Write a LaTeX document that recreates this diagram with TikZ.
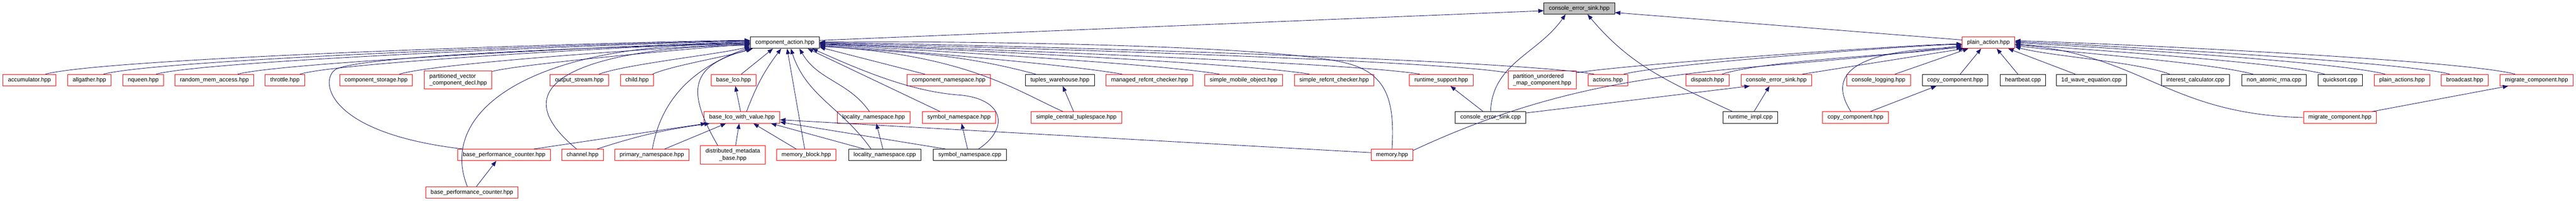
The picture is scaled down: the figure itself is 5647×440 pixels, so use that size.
\documentclass[tikz,border=0pt]{standalone}
\usepackage{fontspec}
\setmainfont{Liberation Sans}
\usepackage{tikz}
\usetikzlibrary{arrows.meta}
\definecolor{edgeblue}{HTML}{191970}

\begin{document}
\begin{tikzpicture}[x=1pt,y=1pt,
        filebox/.style={rectangle, draw, line width=1pt, fill=white, inner xsep=11pt, inner ysep=0pt, minimum height=25pt, font=\fontsize{12.8}{15}\selectfont},
        redfile/.style={filebox, draw=red},
        cppfile/.style={filebox, draw=black},
        rootfile/.style={filebox, draw=black, fill=gray!50},
        twoline/.style={align=left, minimum height=40pt},
        incl/.style={draw=edgeblue, line width=1pt, -{Triangle[length=12pt,width=9pt]}}]
        \useasboundingbox (0,0) rectangle (5647,-440);
        % Top: the file itself and the two action headers
        \node[rootfile] (cesh) at (3462,-18.5) {console\_error\_sink.hpp};
        \node[cppfile] (compact) at (1720.5,-93.5) {component\_action.hpp};
        \node[redfile] (plainact) at (4359,-93.5) {plain\_action.hpp};
        % First row of includers
        \node[redfile] (accumulator) at (64.5,-175.5) {accumulator.hpp};
        \node[redfile] (allgather) at (196,-175.5) {allgather.hpp};
        \node[redfile] (nqueen) at (314,-175.5) {nqueen.hpp};
        \node[redfile] (randmem) at (470,-175.5) {random\_mem\_access.hpp};
        \node[redfile] (throttle) at (624.5,-175.5) {throttle.hpp};
        \node[redfile] (compstorage) at (824.5,-175.5) {component\_storage.hpp};
        \node[redfile, twoline] (partvec) at (1004.5,-175) {partitioned\_vector\\\_component\_decl.hpp};
        \node[redfile] (outstream) at (1270,-175.5) {output\_stream.hpp};
        \node[redfile] (child) at (1396.5,-175.5) {child.hpp};
        \node[redfile] (baselco) at (1608,-175.5) {base\_lco.hpp};
        \node[redfile] (compns) at (2079.5,-175.5) {component\_namespace.hpp};
        \node[cppfile] (tupwh) at (2323.5,-175.5) {tuples\_warehouse.hpp};
        \node[redfile] (mrefcnt) at (2520,-175.5) {managed\_refcnt\_checker.hpp};
        \node[redfile] (smobile) at (2726,-175.5) {simple\_mobile\_object.hpp};
        \node[redfile] (srefcnt) at (2924.5,-175.5) {simple\_refcnt\_checker.hpp};
        \node[redfile] (rtsupport) at (3159.5,-175.5) {runtime\_support.hpp};
        \node[redfile, twoline] (partmap) at (3380.5,-175) {partition\_unordered\\\_map\_component.hpp};
        \node[redfile] (actions) at (3524.5,-175.5) {actions.hpp};
        \node[redfile] (dispatch) at (3743,-175.5) {dispatch.hpp};
        \node[redfile] (cesh2) at (3894,-175.5) {console\_error\_sink.hpp};
        \node[redfile] (conlog) at (4118,-175.5) {console\_logging.hpp};
        \node[cppfile] (copycomp) at (4286,-175.5) {copy\_component.hpp};
        \node[cppfile] (heartbeat) at (4434.5,-175.5) {heartbeat.cpp};
        \node[cppfile] (wave1d) at (4584.5,-175.5) {1d\_wave\_equation.cpp};
        \node[cppfile] (interest) at (4812.5,-175.5) {interest\_calculator.cpp};
        \node[cppfile] (nonatomic) at (4985,-175.5) {non\_atomic\_rma.cpp};
        \node[cppfile] (quicksort) at (5130,-175.5) {quicksort.cpp};
        \node[redfile] (plainacts) at (5265.5,-175.5) {plain\_actions.hpp};
        \node[redfile] (broadcast) at (5403,-175.5) {broadcast.hpp};
        \node[redfile] (migrate) at (5560.5,-175.5) {migrate\_component.hpp};
        % Second row
        \node[redfile] (lcowv) at (1626.5,-257.5) {base\_lco\_with\_value.hpp};
        \node[redfile] (localityns) at (1915,-257.5) {locality\_namespace.hpp};
        \node[redfile] (symbolns) at (2102,-257.5) {symbol\_namespace.hpp};
        \node[redfile] (sctuple) at (2359.5,-257.5) {simple\_central\_tuplespace.hpp};
        \node[cppfile] (cescpp) at (3267.5,-257.5) {console\_error\_sink.cpp};
        \node[cppfile] (rtimpl) at (3837,-257.5) {runtime\_impl.cpp};
        \node[redfile] (copycomp2) at (4067.5,-257.5) {copy\_component.hpp};
        \node[redfile] (migrate2) at (5129.5,-257.5) {migrate\_component.hpp};
        % Third row
        \node[redfile] (perfcnt) at (1105,-339.5) {base\_performance\_counter.hpp};
        \node[redfile] (channel) at (1277,-339.5) {channel.hpp};
        \node[redfile] (primaryns) at (1429,-339.5) {primary\_namespace.hpp};
        \node[redfile, twoline, align=center] (distmeta) at (1606.5,-339.5) {distributed\_metadata\\\_base.hpp};
        \node[redfile] (memblock) at (1767.5,-339.5) {memory\_block.hpp};
        \node[cppfile] (localitycpp) at (1939.5,-339.5) {locality\_namespace.cpp};
        \node[cppfile] (symbolcpp) at (2126,-339.5) {symbol\_namespace.cpp};
        \node[redfile] (memory) at (3051.5,-339.5) {memory.hpp};
        % Bottom row
        \node[redfile] (perfcnt2) at (1034.5,-421.5) {base\_performance\_counter.hpp};

        % Into console_error_sink.hpp
        \draw[incl] ([yshift=5]compact.east) -- ([yshift=-5]cesh.west);
        \draw[incl] ([yshift=6]plainact.west) -- ([yshift=-9]cesh.east);
        \draw[incl] (cescpp.north) .. controls +(88:106) and +(-125:106) .. ([xshift=-30]cesh.south);
        \draw[incl] ([xshift=-39]rtimpl.north) .. controls +(155:150) and +(-50:150) .. ([xshift=18]cesh.south);

        % Into component_action.hpp from the left
        \draw[incl] ([xshift=35]accumulator.north) .. controls +(15:151) and +(180:151) .. ([yshift=5]compact.west);
        \draw[incl] ([xshift=31]allgather.north) .. controls +(15:139) and +(180:139) .. ([yshift=4]compact.west);
        \draw[incl] ([xshift=28]nqueen.north) .. controls +(15:128) and +(180:128) .. ([yshift=3]compact.west);
        \draw[incl] ([xshift=51]randmem.north) .. controls +(15:110) and +(180:110) .. ([yshift=1]compact.west);
        \draw[incl] ([xshift=33]throttle.north) .. controls +(17:97) and +(180:97) .. (compact.west);
        \draw[incl] ([xshift=51]compstorage.north) .. controls +(17:91) and +(182:91) .. ([yshift=-2]compact.west);
        \draw[incl] ([yshift=-2]partvec.north east) .. controls +(15:67) and +(184:67) .. ([yshift=-3]compact.west);
        \draw[incl] ([xshift=43]outstream.north) .. controls +(20:66) and +(195:66) .. ([yshift=-8]compact.west);
        \draw[incl] ([xshift=34]child.north) .. controls +(25:44) and +(200:44) .. ([xshift=3]compact.south west);
        \draw[incl] ([xshift=-90]perfcnt.north) .. controls (700,-290) and (700,-165) .. (740,-150) .. controls +(20:106) and +(182:106) .. ([yshift=-1]compact.west);
        \draw[incl] ([xshift=-10]perfcnt2.north) .. controls (960,-250) and (1150,-90) .. ([yshift=-4]compact.west);
        \draw[incl] ([xshift=-13]channel.north) .. controls (1050,-150) and (1400,-100) .. ([yshift=-6]compact.west);
        \draw[incl] ([xshift=1]primaryns.north) .. controls +(80:121) and +(200:121) .. ([yshift=3]compact.south west);
        \draw[incl] ([xshift=-33]distmeta.north) .. controls +(120:142) and +(195:142) .. ([xshift=6]compact.south west);

        % Into component_action.hpp from below
        \draw[incl] ([xshift=17]baselco.north) -- ([xshift=-26]compact.south);
        \draw[incl] ([xshift=10]lcowv.north) .. controls +(69:62) and +(233:62) .. ([xshift=-8]compact.south);
        \draw[incl] ([xshift=-3.5]memblock.north) -- ([xshift=5]compact.south);
        \draw[incl] ([xshift=-30]localitycpp.north) .. controls +(125:110) and +(-72:110) .. ([xshift=13]compact.south);
        \draw[incl] ([xshift=-9]localityns.north) .. controls +(125:81) and +(-60:81) .. ([xshift=32]compact.south);
        \draw[incl] ([xshift=-41]symbolns.north) -- ([xshift=50]compact.south);
        \draw[incl] ([xshift=19]symbolcpp.north) .. controls (2215,-280) and (2200,-215) .. (2100,-208) .. controls (2000,-200) and (1900,-160) .. ([xshift=60]compact.south);

        % Into component_action.hpp from the right
        \draw[incl] ([xshift=-52]compns.north) -- ([yshift=-10]compact.east);
        \draw[incl] ([xshift=-29]sctuple.north) .. controls (2230,-200) and (2120,-120) .. ([yshift=-8]compact.east);
        \draw[incl] ([xshift=-53]tupwh.north) .. controls +(165:187) and +(-5:187) .. ([yshift=-7]compact.east);
        \draw[incl] ([xshift=-60]mrefcnt.north) .. controls +(170:130) and +(-3:130) .. ([yshift=-6]compact.east);
        \draw[incl] ([xshift=-53]smobile.north) .. controls +(170:137) and +(-3:137) .. ([yshift=-4]compact.east);
        \draw[incl] ([xshift=-54]srefcnt.north) .. controls +(170:147) and +(-2:147) .. ([yshift=-3]compact.east);
        \draw[incl] ([xshift=-47]rtsupport.north) .. controls +(170:155) and +(-2:155) .. ([yshift=-2]compact.east);
        \draw[incl] ([yshift=-5]partmap.north west) .. controls +(170:177) and +(-1:177) .. ([yshift=-1]compact.east);
        \draw[incl] ([xshift=-30]actions.north) .. controls +(170:200) and +(0:200) .. (compact.east);
        \draw[incl] (memory.north) .. controls (3058,-220) and (3040,-160) .. (2950,-138) .. controls +(166:181) and +(1:181) .. ([yshift=1]compact.east);

        % Into base_lco_with_value.hpp and base_lco.hpp
        \draw[incl] ([xshift=-3]lcowv.north) -- ([xshift=4]baselco.south);
        \draw[incl] ([xshift=65]perfcnt.north) -- ([xshift=5]lcowv.south west);
        \draw[incl] ([xshift=32]channel.north) .. controls +(18:100) and +(188:100) .. ([xshift=13]lcowv.south west);
        \draw[incl] ([xshift=28]primaryns.north) -- ([xshift=-35]lcowv.south);
        \draw[incl] ([xshift=6]distmeta.north) -- ([xshift=-6]lcowv.south);
        \draw[incl] ([xshift=-22]memblock.north) -- ([xshift=25]lcowv.south);
        \draw[incl] ([xshift=-45]localitycpp.north) -- ([xshift=-20]lcowv.south east);
        \draw[incl] ([xshift=-53]symbolcpp.north) -- ([yshift=-10]lcowv.east);
        \draw[incl] ([yshift=5]memory.west) -- ([yshift=-5]lcowv.east);

        % Short links between the lower rows
        \draw[incl] ([xshift=10]perfcnt2.north) -- ([xshift=-17]perfcnt.south);
        \draw[incl] ([xshift=-4]localitycpp.north) -- ([xshift=6]localityns.south);
        \draw[incl] ([xshift=-5]symbolcpp.north) -- ([xshift=6]symbolns.south);
        \draw[incl] ([xshift=-6]sctuple.north) -- ([xshift=6]tupwh.south);
        \draw[incl] ([xshift=-16]cescpp.north) -- ([xshift=20]rtsupport.south);
        \draw[incl] ([yshift=10]cescpp.east) -- ([xshift=-58]cesh2.south);
        \draw[incl] ([xshift=8]rtimpl.north) -- ([xshift=-15]cesh2.south);
        \draw[incl] ([xshift=32]copycomp2.north) -- ([xshift=-41]copycomp.south);
        \draw[incl] ([xshift=70]migrate2.north) -- ([xshift=-62]migrate.south);

        % Into plain_action.hpp
        \draw[incl] ([yshift=-5]partmap.north east) .. controls +(10:100) and +(180:100) .. ([yshift=-3]plainact.west);
        \draw[incl] ([xshift=35]actions.north) .. controls +(15:87) and +(180:87) .. ([yshift=-4]plainact.west);
        \draw[incl] ([yshift=10]memory.east) .. controls +(25:479) and +(188:479) .. ([yshift=-6]plainact.west);
        \draw[incl] ([xshift=32]dispatch.north) .. controls +(18:104) and +(190:104) .. ([yshift=-8]plainact.west);
        \draw[incl] ([xshift=-10]copycomp2.north) .. controls (3990,-140) and (4120,-108) .. ([yshift=-11]plainact.west);
        \draw[incl] ([xshift=57]cesh2.north) -- ([xshift=5]plainact.south west);
        \draw[incl] ([xshift=36]conlog.north) -- ([xshift=-44]plainact.south);
        \draw[incl] ([xshift=11]copycomp.north) -- ([xshift=-16]plainact.south);
        \draw[incl] ([xshift=-11]heartbeat.north) -- ([xshift=18]plainact.south);
        \draw[incl] ([xshift=-35]wave1d.north) -- ([xshift=-15]plainact.south east);
        \draw[incl] ([xshift=-56]interest.north) .. controls +(160:81) and +(-15:81) .. ([yshift=-9]plainact.east);
        \draw[incl] ([xshift=-46]nonatomic.north) .. controls +(165:103) and +(-8:103) .. ([yshift=-6]plainact.east);
        \draw[incl] ([xshift=-34]quicksort.north) .. controls +(165:107) and +(-5:107) .. ([yshift=-3]plainact.east);
        \draw[incl] ([xshift=-37]plainacts.north) .. controls +(165:111) and +(-3:111) .. (plainact.east);
        \draw[incl] ([xshift=-33]broadcast.north) .. controls +(165:112) and +(-2:112) .. ([yshift=2]plainact.east);
        \draw[incl] ([xshift=-47]migrate.north) .. controls +(165:129) and +(-1:129) .. ([yshift=4]plainact.east);
        \draw[incl] (migrate2.west) .. controls (4750,-250) and (4700,-120) .. ([yshift=-4]plainact.east);
\end{tikzpicture}
\end{document}
